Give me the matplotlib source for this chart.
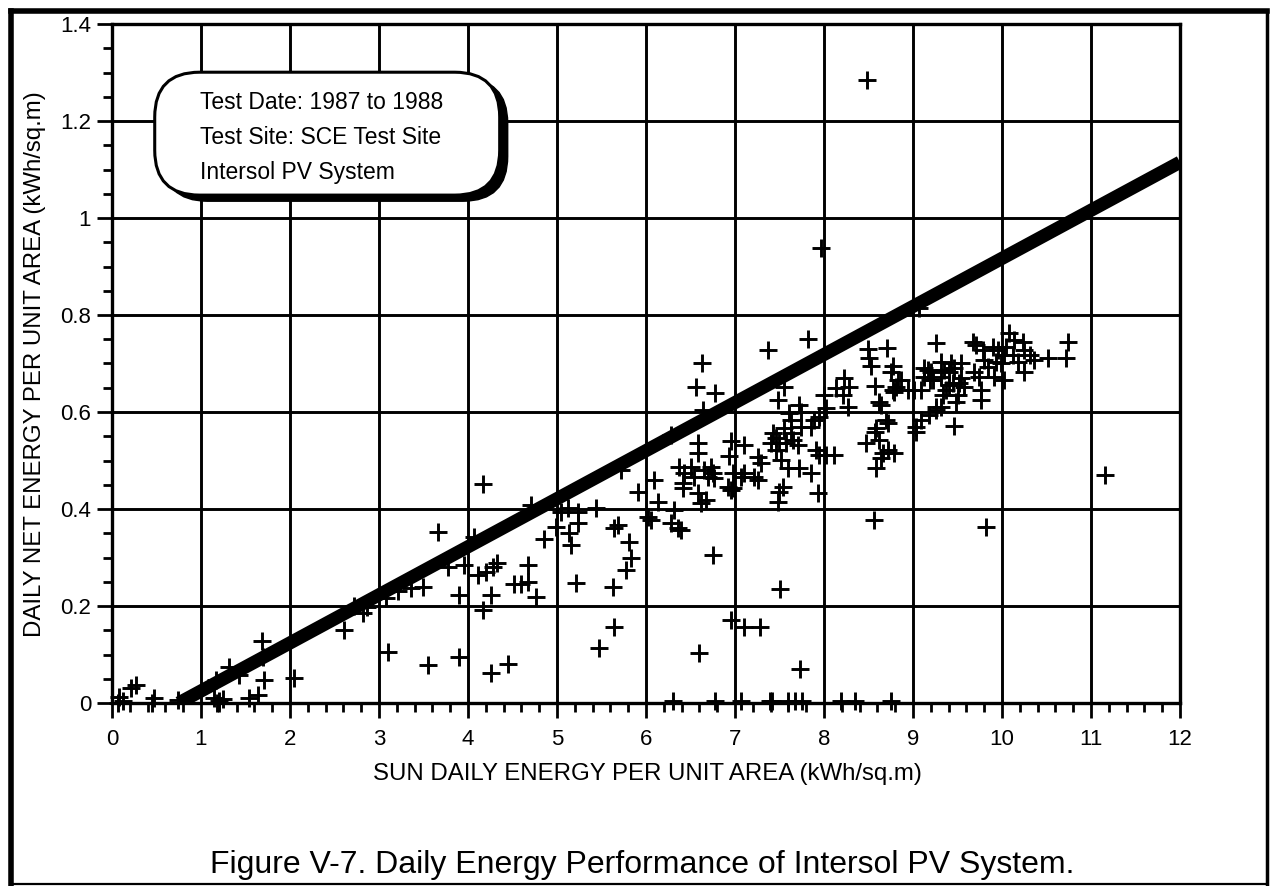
import numpy as np
import matplotlib
matplotlib.use("Agg")
import matplotlib.pyplot as plt
from matplotlib.patches import FancyBboxPatch
from matplotlib.lines import Line2D

plt.rcParams["font.family"] = ["Liberation Sans", "DejaVu Sans"]

# measured points (sun energy, net energy), kWh/sq.m
sun_low = [0.07, 0.08, 0.12, 0.21, 0.27, 0.45, 0.47, 0.74, 1.15, 1.18, 1.2, 1.25, 1.17, 1.31, 1.43,
           1.54, 1.64, 1.68, 1.70, 1.71, 2.05]
net_low = [0.0, 0.012, 0.005, 0.031, 0.037, 0.0, 0.01, 0.006, 0.01, 0.0, 0.005, 0.008, 0.047, 0.075, 0.058,
           0.01, 0.016, 0.128, 0.095, 0.048, 0.051]

sun_mid = [2.61, 2.72, 2.82, 2.87, 3.08, 3.1, 3.21, 3.36, 3.49, 3.55, 3.66, 3.78, 3.9, 3.9, 3.96, 4.07,
           4.11, 4.17, 4.17, 4.2, 4.28, 4.33, 4.26, 4.26, 4.45, 4.52, 4.6, 4.67, 4.67, 4.71, 4.76, 4.85, 4.99]
net_mid = [0.15, 0.2, 0.185, 0.198, 0.216, 0.105, 0.231, 0.237, 0.239, 0.078, 0.353, 0.281, 0.223, 0.095,
           0.285, 0.342, 0.264, 0.452, 0.192, 0.27, 0.281, 0.289, 0.223, 0.062, 0.08, 0.245, 0.245, 0.285,
           0.25, 0.408, 0.219, 0.338, 0.363]

sun_5 = [5.04, 5.12, 5.24, 5.44, 5.24, 5.13, 5.16, 5.21, 5.47, 5.63, 5.64, 5.64, 5.69, 5.72, 5.78, 5.81,
         5.83, 5.91, 6.02, 6.06, 6.09, 6.13, 6.28, 6.31, 6.36, 6.39]
net_5 = [0.394, 0.402, 0.394, 0.402, 0.371, 0.351, 0.326, 0.247, 0.113, 0.239, 0.157, 0.361, 0.367, 0.48,
         0.274, 0.332, 0.299, 0.435, 0.384, 0.377, 0.46, 0.414, 0.371, 0.398, 0.361, 0.357]

sun_6 = [6.28, 6.37, 6.43, 6.42, 6.42, 6.5, 6.54, 6.56, 6.58, 6.58, 6.58, 6.6, 6.62, 6.63, 6.64, 6.65,
         6.67, 6.7, 6.73, 6.75, 6.76, 6.78, 6.75, 6.93, 6.92, 6.96, 6.96, 6.98, 6.98, 6.96, 7.07, 7.1, 7.1,
         7.1, 7.21, 7.26, 7.26, 7.29, 7.28]
net_6 = [0.553, 0.487, 0.474, 0.454, 0.443, 0.487, 0.466, 0.652, 0.536, 0.515, 0.433, 0.103, 0.412, 0.701,
         0.604, 0.48, 0.419, 0.466, 0.487, 0.474, 0.464, 0.639, 0.305, 0.509, 0.445, 0.54, 0.439, 0.474,
         0.443, 0.171, 0.466, 0.532, 0.474, 0.157, 0.466, 0.507, 0.46, 0.495, 0.157]

sun_7 = [7.37, 7.4, 7.43, 7.46, 7.46, 7.48, 7.48, 7.49, 7.49, 7.5, 7.52, 7.54, 7.55, 7.55, 7.57, 7.6,
         7.61, 7.63, 7.63, 7.65, 7.71, 7.72, 7.72, 7.73, 7.74, 7.74, 7.82, 7.85, 7.85, 7.89, 7.93, 7.94,
         7.94, 7.91, 7.97]
net_7 = [0.728, 0.536, 0.557, 0.546, 0.522, 0.625, 0.414, 0.536, 0.435, 0.235, 0.501, 0.445, 0.652, 0.567,
         0.536, 0.485, 0.598, 0.583, 0.557, 0.542, 0.532, 0.614, 0.485, 0.07, 0.6, 0.569, 0.75, 0.569,
         0.474, 0.583, 0.433, 0.59, 0.511, 0.522, 0.938]

sun_8 = [8.0, 8.02, 8.02, 8.11, 8.13, 8.21, 8.22, 8.27, 8.28, 8.47, 8.48, 8.49, 8.51, 8.53, 8.56, 8.57,
         8.57, 8.58, 8.58, 8.62, 8.62, 8.64, 8.64, 8.66, 8.7, 8.71, 8.72, 8.72, 8.75, 8.77, 8.78, 8.79,
         8.79, 8.81, 8.83, 8.87, 8.94]
net_8 = [0.635, 0.608, 0.511, 0.511, 0.65, 0.635, 0.67, 0.61, 0.652, 0.536, 1.285, 0.73, 0.711, 0.695,
         0.377, 0.654, 0.559, 0.485, 0.567, 0.621, 0.542, 0.614, 0.505, 0.515, 0.583, 0.732, 0.522, 0.577,
         0.682, 0.695, 0.645, 0.641, 0.515, 0.652, 0.666, 0.666, 0.645]

sun_9 = [9.01, 9.03, 9.03, 9.07, 9.09, 9.09, 9.12, 9.12, 9.17, 9.18, 9.19, 9.2, 9.22, 9.26, 9.26, 9.26,
         9.31, 9.31, 9.31, 9.34, 9.35, 9.37, 9.4, 9.4, 9.43, 9.45, 9.46, 9.46, 9.48, 9.5, 9.52, 9.54, 9.54,
         9.57, 9.67, 9.69, 9.71, 9.74, 9.76, 9.76, 9.79, 9.8, 9.82, 9.84, 9.9, 9.91, 9.93, 9.96, 9.99]
net_9 = [0.645, 0.569, 0.559, 0.814, 0.645, 0.583, 0.672, 0.691, 0.687, 0.594, 0.666, 0.682, 0.666, 0.742,
         0.61, 0.604, 0.703, 0.672, 0.61, 0.635, 0.687, 0.645, 0.682, 0.656, 0.701, 0.66, 0.691, 0.571,
         0.621, 0.635, 0.66, 0.701, 0.67, 0.652, 0.745, 0.682, 0.738, 0.672, 0.645, 0.625, 0.728, 0.707,
         0.363, 0.693, 0.734, 0.672, 0.703, 0.728, 0.701]

sun_10 = [10.02, 10.02, 10.04, 10.08, 10.12, 10.13, 10.18, 10.24, 10.25, 10.25, 10.31, 10.36, 10.52,
          10.72, 10.74, 11.16]
net_10 = [0.718, 0.666, 0.734, 0.763, 0.718, 0.748, 0.703, 0.745, 0.728, 0.682, 0.718, 0.707, 0.711,
          0.711, 0.745, 0.47]

# days with no net output
sun_zero = [6.3, 6.78, 7.07, 7.39, 7.42, 7.6, 7.67, 7.75, 8.19, 8.35, 8.75]
net_zero = [0.005] * len(sun_zero)

# heavy reference line
line_x = [0.75, 12.0]
line_y = [0.0, 1.115]

sun = sun_low + sun_mid + sun_5 + sun_6 + sun_7 + sun_8 + sun_9 + sun_10 + sun_zero
net = net_low + net_mid + net_5 + net_6 + net_7 + net_8 + net_9 + net_10 + net_zero

W, H = 1273, 886
fig = plt.figure(figsize=(W / 100, H / 100), dpi=100)
ax = fig.add_axes([112 / W, 1 - 703 / H, 1068 / W, 679 / H])

ax.plot(sun, net, linestyle="none", marker="+", markersize=12.5, markeredgewidth=2.1,
        color="black", zorder=3, clip_on=False)
ax.plot(line_x, line_y, color="black", linewidth=9.5, solid_capstyle="butt", zorder=4)

ax.set_xlim(0, 12)
ax.set_ylim(0, 1.4)
ax.set_xticks(np.arange(0, 13, 1))
ax.set_xticks(np.arange(0, 12.01, 0.2), minor=True)
ax.set_yticks(np.arange(0, 1.41, 0.2))
ax.set_yticklabels(["0", "0.2", "0.4", "0.6", "0.8", "1", "1.2", "1.4"])
ax.set_yticks(np.arange(0, 1.401, 0.05), minor=True)
ax.grid(True, which="major", color="black", linewidth=2.1, zorder=1)
ax.set_axisbelow(True)
for s in ax.spines.values():
    s.set_linewidth(2.4)
ax.tick_params(which="major", direction="out", length=11, width=2, labelsize=16)
ax.tick_params(which="minor", direction="out", length=6.5, width=2)
ax.tick_params(axis="x", which="major", pad=8)
ax.tick_params(axis="y", which="major", pad=4)

fig.text(647 / W, 1 - 774 / H, "SUN DAILY ENERGY PER UNIT AREA (kWh/sq.m)", fontsize=17.3,
         ha="center", va="center")
fig.text(35 / W, 1 - 364 / H, "DAILY NET ENERGY PER UNIT AREA (kWh/sq.m)", fontsize=17.3,
         ha="center", va="center", rotation=90)

# info box with drop shadow
bx, by, bw, bh = 0.040, 0.748, 0.323, 0.181
shadow = FancyBboxPatch((bx + 0.0075, by - 0.009), bw, bh, boxstyle="round,pad=0,rounding_size=0.042",
                        transform=ax.transAxes, facecolor="black", edgecolor="black",
                        mutation_aspect=1068 / 679, zorder=5)
box = FancyBboxPatch((bx, by), bw, bh, boxstyle="round,pad=0,rounding_size=0.042",
                     transform=ax.transAxes, facecolor="white", edgecolor="black", linewidth=2.2,
                     mutation_aspect=1068 / 679, zorder=6)
ax.add_patch(shadow)
ax.add_patch(box)
info = ["Test Date: 1987 to 1988", "Test Site: SCE Test Site", "Intersol PV System"]
for i, t in enumerate(info):
    ax.text(0.082, 0.885 - i * 0.0515, t, transform=ax.transAxes, fontsize=16.5,
            va="center", ha="left", zorder=7)

fig.text(642 / W, 1 - 865 / H, "Figure V-7. Daily Energy Performance of Intersol PV System.",
         fontsize=23, ha="center", va="center")

# outer frame: heavy top and left, lighter right and bottom
fx0, fx1, fy0, fy1 = 11 / W, 1267 / W, 1 - 884 / H, 1 - 11 / H
fig.lines.append(Line2D([fx0, fx1], [fy1, fy1], transform=fig.transFigure, color="black", lw=4))
fig.lines.append(Line2D([fx0, fx0], [fy0, fy1], transform=fig.transFigure, color="black", lw=4))
fig.lines.append(Line2D([fx1, fx1], [fy0, fy1], transform=fig.transFigure, color="black", lw=2.5))
fig.lines.append(Line2D([fx0, fx1], [fy0, fy0], transform=fig.transFigure, color="black", lw=1.6))

fig.savefig("out.png", dpi=100)
